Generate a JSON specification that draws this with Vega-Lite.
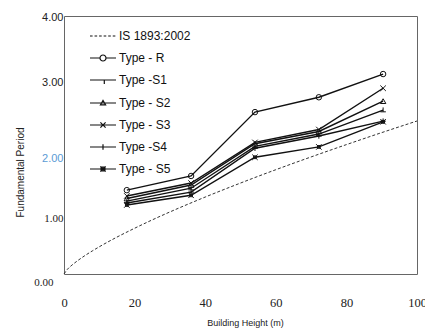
{
  "$schema": "https://vega.github.io/schema/vega-lite/v6.json",
  "width": 353,
  "height": 258,
  "autosize": "none",
  "padding": {"left": 64, "top": 16, "right": 8, "bottom": 55},
  "background": "white",
  "config": {
    "view": {"stroke": "#666", "strokeWidth": 1},
    "axis": {"grid": false, "ticks": false, "domain": false}
  },
  "data": {
    "values": [
      {"series": "IS 1893:2002", "h": 0, "T": 0},
      {"series": "IS 1893:2002", "h": 1, "T": 0.075},
      {"series": "IS 1893:2002", "h": 2, "T": 0.126},
      {"series": "IS 1893:2002", "h": 4, "T": 0.212},
      {"series": "IS 1893:2002", "h": 6, "T": 0.288},
      {"series": "IS 1893:2002", "h": 8, "T": 0.357},
      {"series": "IS 1893:2002", "h": 10, "T": 0.422},
      {"series": "IS 1893:2002", "h": 15, "T": 0.572},
      {"series": "IS 1893:2002", "h": 20, "T": 0.709},
      {"series": "IS 1893:2002", "h": 25, "T": 0.839},
      {"series": "IS 1893:2002", "h": 30, "T": 0.962},
      {"series": "IS 1893:2002", "h": 40, "T": 1.193},
      {"series": "IS 1893:2002", "h": 50, "T": 1.41},
      {"series": "IS 1893:2002", "h": 60, "T": 1.617},
      {"series": "IS 1893:2002", "h": 70, "T": 1.815},
      {"series": "IS 1893:2002", "h": 80, "T": 2.006},
      {"series": "IS 1893:2002", "h": 90, "T": 2.192},
      {"series": "IS 1893:2002", "h": 100, "T": 2.372},
      {"series": "Type - R", "h": 17.8, "T": 1.30},
      {"series": "Type - R", "h": 36.0, "T": 1.52},
      {"series": "Type - R", "h": 54.1, "T": 2.51},
      {"series": "Type - R", "h": 72.2, "T": 2.74},
      {"series": "Type - R", "h": 90.4, "T": 3.10},
      {"series": "Type -S1", "h": 17.8, "T": 1.13},
      {"series": "Type -S1", "h": 36.0, "T": 1.33},
      {"series": "Type -S1", "h": 54.1, "T": 1.98},
      {"series": "Type -S1", "h": 72.2, "T": 2.17},
      {"series": "Type -S1", "h": 90.4, "T": 2.54},
      {"series": "Type - S2", "h": 17.8, "T": 1.17},
      {"series": "Type - S2", "h": 36.0, "T": 1.38},
      {"series": "Type - S2", "h": 54.1, "T": 2.02},
      {"series": "Type - S2", "h": 72.2, "T": 2.21},
      {"series": "Type - S2", "h": 90.4, "T": 2.68},
      {"series": "Type - S3", "h": 17.8, "T": 1.21},
      {"series": "Type - S3", "h": 36.0, "T": 1.41},
      {"series": "Type - S3", "h": 54.1, "T": 2.04},
      {"series": "Type - S3", "h": 72.2, "T": 2.24},
      {"series": "Type - S3", "h": 90.4, "T": 2.88},
      {"series": "Type -S4", "h": 17.8, "T": 1.10},
      {"series": "Type -S4", "h": 36.0, "T": 1.27},
      {"series": "Type -S4", "h": 54.1, "T": 1.95},
      {"series": "Type -S4", "h": 72.2, "T": 2.14},
      {"series": "Type -S4", "h": 90.4, "T": 2.37},
      {"series": "Type - S5", "h": 17.8, "T": 1.07},
      {"series": "Type - S5", "h": 36.0, "T": 1.22},
      {"series": "Type - S5", "h": 54.1, "T": 1.81},
      {"series": "Type - S5", "h": 72.2, "T": 1.97},
      {"series": "Type - S5", "h": 90.4, "T": 2.36}
    ]
  },
  "layer": [
    {
      "transform": [{"filter": "datum.series == 'IS 1893:2002'"}],
      "mark": {"type": "line", "color": "#333", "strokeWidth": 1, "strokeDash": [3, 2], "interpolate": "monotone"},
      "encoding": {
        "x": {
          "field": "h", "type": "quantitative",
          "scale": {"domain": [0, 100], "nice": false, "zero": false},
          "axis": {
            "title": "Building Height (m)",
            "values": [0, 20, 40, 60, 80, 100],
            "labelFont": "Liberation Serif", "labelFontSize": 12.5,
            "labelDx": 7, "labelPadding": 22, "labelFlush": false, "labelOverlap": false,
            "labelColor": "#222",
            "titleFont": "Liberation Sans", "titleFontSize": 9, "titleFontWeight": "normal",
            "titleX": 181, "titleY": 48, "titleBaseline": "middle", "titleColor": "#222"
          }
        },
        "y": {
          "field": "T", "type": "quantitative",
          "scale": {"domain": [0, 4], "nice": false},
          "axis": {
            "title": "Fundamental Period",
            "values": [0, 1, 2, 3, 4],
            "format": ".2f",
            "labelFontSize": 11,
            "labelFont": {"condition": {"test": "datum.value <= 1", "value": "Liberation Serif"}, "value": "Liberation Sans"},
            "labelColor": {"condition": {"test": "datum.value == 2", "value": "#5b9bd5"}, "value": "#222"},
            "labelOffset": {"condition": [
              {"test": "datum.value == 2", "value": 13},
              {"test": "datum.value == 1", "value": 8.5},
              {"test": "datum.value == 0", "value": 8}
            ], "value": 1.5},
            "labelPadding": {"condition": {"test": "datum.value == 0", "value": 11}, "value": 1},
            "titleFont": "Liberation Sans", "titleFontSize": 10, "titleFontWeight": "normal",
            "titleX": -44, "titleY": 156, "titleAngle": -90, "titleAlign": "center", "titleBaseline": "middle",
            "titleColor": "#222"
          }
        }
      }
    },
    {
      "transform": [{"filter": "datum.series != 'IS 1893:2002'"}],
      "mark": {"type": "line", "color": "#111", "strokeWidth": 1.4},
      "encoding": {
        "x": {"field": "h", "type": "quantitative"},
        "y": {"field": "T", "type": "quantitative"},
        "detail": {"field": "series"}
      }
    },
    {
      "transform": [{"filter": "datum.series != 'IS 1893:2002'"}],
      "mark": {"type": "point", "filled": false, "stroke": "#111", "strokeWidth": 1, "size": 30, "opacity": 1},
      "encoding": {
        "x": {"field": "h", "type": "quantitative"},
        "y": {"field": "T", "type": "quantitative"},
        "shape": {
          "field": "series", "type": "nominal",
          "scale": {
            "domain": ["IS 1893:2002", "Type - R", "Type -S1", "Type - S2", "Type - S3", "Type -S4", "Type - S5"],
            "range": [
              "circle",
              "circle",
              "M-1,0.6L1,0.6M0,0.6L0,-1",
              "triangle-up",
              "M-1,-1L1,1M-1,1L1,-1",
              "M-1,0L1,0M0,-1L0,1",
              "M-1,-1L1,1M-1,1L1,-1M-0.5,-0.5L0.5,-0.5L0.5,0.5L-0.5,0.5Z"
            ]
          },
          "legend": null
        }
      }
    },
    {
      "mark": {"type": "point", "filled": false, "opacity": 0, "size": 30},
      "encoding": {
        "x": {"field": "h", "type": "quantitative"},
        "y": {"field": "T", "type": "quantitative"},
        "shape": {
          "field": "series", "type": "nominal",
          "scale": {
            "domain": ["IS 1893:2002", "Type - R", "Type -S1", "Type - S2", "Type - S3", "Type -S4", "Type - S5"],
            "range": [
              "M-1,0L-0.8,0M-0.65,0L-0.45,0M-0.3,0L-0.1,0M0.05,0L0.25,0M0.4,0L0.6,0M0.75,0L0.95,0",
              "M-1,0L-0.23,0M0.23,0L1,0M-0.23,0A0.23,0.23 0 1,0 0.23,0A0.23,0.23 0 1,0 -0.23,0",
              "M-1,0L1,0M0.1,0L0.1,0.3",
              "M-1,0L1,0M-0.2,0.15L0,-0.2L0.2,0.15Z",
              "M-1,0L1,0M-0.2,-0.2L0.2,0.2M-0.2,0.2L0.2,-0.2",
              "M-1,0L1,0M0,-0.22L0,0.22",
              "M-1,0L1,0M-0.2,-0.2L0.2,0.2M-0.2,0.2L0.2,-0.2M-0.15,-0.15L0.15,-0.15L0.15,0.15L-0.15,0.15Z"
            ]
          },
          "legend": {
            "title": null,
            "orient": "none",
            "legendX": 25,
            "legendY": 6,
            "padding": 0,
            "symbolSize": 676,
            "symbolStrokeColor": "#111",
            "symbolFillColor": "transparent",
            "symbolStrokeWidth": 1.2,
            "symbolOpacity": 1,
            "rowPadding": 2,
            "labelOffset": 2,
            "labelFont": "Liberation Sans",
            "labelFontSize": 12,
            "labelColor": "#111",
            "labelLimit": 200
          }
        }
      }
    }
  ],
  "resolve": {"scale": {"shape": "independent"}, "legend": {"shape": "independent"}}
}
